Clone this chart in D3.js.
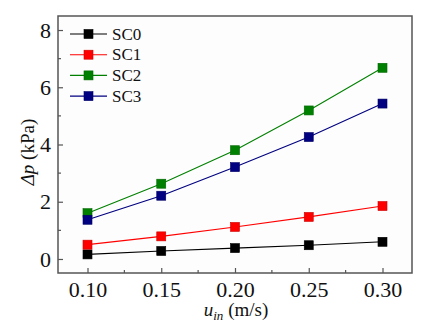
<!DOCTYPE html>
<html>
<head>
<meta charset="utf-8">
<script src="https://cdn.jsdelivr.net/npm/d3@7"></script>
</head>
<body style="margin:0;background:#fff">
<div id="chart"></div>
<script>
// inlet velocity (m/s) and pressure drop (kPa) for each case
var velocities = [0.10, 0.15, 0.20, 0.25, 0.30];
var sc0 = [0.16, 0.28, 0.38, 0.48, 0.60];
var sc1 = [0.50, 0.79, 1.12, 1.47, 1.85];
var sc2 = [1.60, 2.63, 3.80, 5.19, 6.68];
var sc3 = [1.37, 2.21, 3.21, 4.26, 5.43];
var seriesNames = ["SC0", "SC1", "SC2", "SC3"];
var seriesColors = ["#000000", "#ff0000", "#008000", "#000080"];
var xTicks = [0.10, 0.15, 0.20, 0.25, 0.30];
var yTicks = [0, 2, 4, 6, 8];

var font = "Liberation Serif";

var series = [sc0, sc1, sc2, sc3].map(function (vals, i) {
  return {
    name: seriesNames[i],
    color: seriesColors[i],
    points: vals.map(function (v, j) { return { x: velocities[j], y: v }; })
  };
});

var W = 424, H = 334;
var margin = {top: 16, right: 12, bottom: 61, left: 58},
    width = W - margin.left - margin.right,
    height = H - margin.top - margin.bottom;

var svg = d3.select("#chart").append("svg")
    .attr("width", W)
    .attr("height", H)
    .style("display", "block");

var g = svg.append("g")
    .attr("transform", "translate(" + margin.left + "," + margin.top + ")");

var x = d3.scaleLinear().domain([0.08, 0.32]).range([0, width]);
var y = d3.scaleLinear().domain([-0.49, 8.49]).range([height, 0]);

var axisColor = "#555";

// plot frame
g.append("rect")
    .attr("width", width)
    .attr("height", height)
    .attr("fill", "#fdfdfd")
    .attr("stroke", axisColor)
    .attr("stroke-width", 1.5);

// minor ticks halfway between the labelled ones
var xMinor = [0.125, 0.175, 0.225, 0.275];
var yMinor = [1, 3, 5, 7];

g.selectAll(".xminor").data(xMinor).enter().append("line")
    .attr("x1", function (d) { return x(d); })
    .attr("x2", function (d) { return x(d); })
    .attr("y1", height).attr("y2", height - 3)
    .attr("stroke", axisColor).attr("stroke-width", 1.2);

g.selectAll(".yminor").data(yMinor).enter().append("line")
    .attr("y1", function (d) { return y(d); })
    .attr("y2", function (d) { return y(d); })
    .attr("x1", 0).attr("x2", 3)
    .attr("stroke", axisColor).attr("stroke-width", 1.2);

var xAxis = g.append("g")
    .attr("transform", "translate(0," + height + ")")
    .call(d3.axisBottom(x).tickValues(xTicks).tickFormat(d3.format(".2f"))
      .tickSizeInner(-5).tickSizeOuter(0).tickPadding(8));

var yAxis = g.append("g")
    .call(d3.axisLeft(y).tickValues(yTicks).tickFormat(d3.format("d"))
      .tickSizeInner(-5).tickSizeOuter(0).tickPadding(7));

[xAxis, yAxis].forEach(function (a) {
  a.attr("font-family", font).attr("font-size", 22);
  a.select(".domain").remove();
  a.selectAll(".tick line").attr("stroke", axisColor).attr("stroke-width", 1.2);
  a.selectAll(".tick text")
    .attr("fill", "#111")
    .attr("font-family", font)
    .attr("font-size", 22);
});

var line = d3.line()
    .x(function (d) { return x(d.x); })
    .y(function (d) { return y(d.y); });

var ms = 9;

series.forEach(function (s) {
  g.append("path")
      .datum(s.points)
      .attr("fill", "none")
      .attr("stroke", s.color)
      .attr("stroke-width", 1.1)
      .attr("d", line);

  g.selectAll(null).data(s.points).enter().append("rect")
      .attr("x", function (d) { return x(d.x) - ms / 2; })
      .attr("y", function (d) { return y(d.y) - ms / 2; })
      .attr("width", ms)
      .attr("height", ms)
      .attr("fill", s.color)
      .attr("stroke", d3.color(s.color).darker(0.6))
      .attr("stroke-width", 0.6);
});

// legend, top left inside the frame
var legend = g.append("g").attr("transform", "translate(12,18)");
series.forEach(function (s, i) {
  var row = legend.append("g").attr("transform", "translate(0," + (i * 20.7) + ")");
  row.append("line")
      .attr("x1", 0).attr("x2", 37)
      .attr("stroke", s.color).attr("stroke-width", 1.1);
  row.append("rect")
      .attr("x", 18.5 - ms / 2).attr("y", -ms / 2)
      .attr("width", ms).attr("height", ms)
      .attr("fill", s.color)
      .attr("stroke", d3.color(s.color).darker(0.6))
      .attr("stroke-width", 0.6);
  row.append("text")
      .attr("x", 42).attr("y", 5.5)
      .attr("font-family", font)
      .attr("font-size", 17)
      .attr("fill", "#111")
      .text(s.name);
});

// axis titles
var xt = svg.append("text")
    .attr("x", 236).attr("y", 316)
    .attr("text-anchor", "middle")
    .attr("font-family", font)
    .attr("font-size", 19)
    .attr("fill", "#111");
xt.append("tspan").attr("font-style", "italic").text("u");
xt.append("tspan").attr("font-style", "italic").attr("font-size", 13).attr("dy", 4).text("in");
xt.append("tspan").attr("dy", -4).text(" (m/s)");

var yt = svg.append("text")
    .attr("transform", "translate(34,152) rotate(-90)")
    .attr("text-anchor", "middle")
    .attr("font-family", font)
    .attr("font-size", 19)
    .attr("fill", "#111");
yt.append("tspan").attr("font-style", "italic").text("\u0394p");
yt.append("tspan").text(" (kPa)");
</script>
</body>
</html>
